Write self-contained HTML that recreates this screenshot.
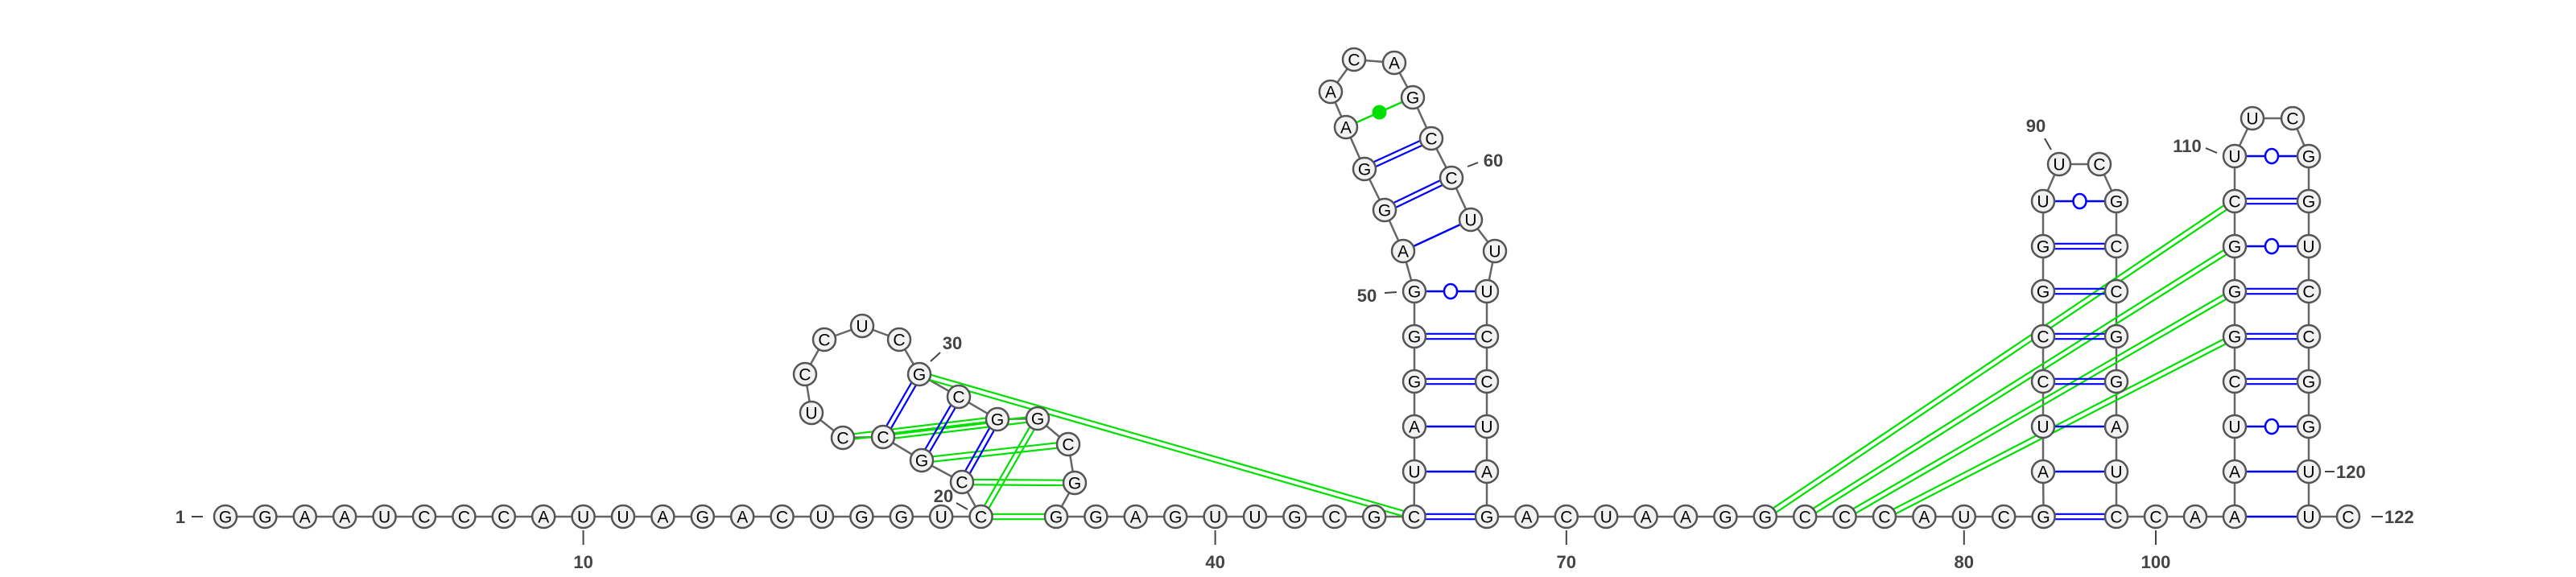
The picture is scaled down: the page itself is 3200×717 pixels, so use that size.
<!DOCTYPE html>
<html><head><meta charset="utf-8"><style>
html,body{margin:0;padding:0;background:#fff;}
svg{display:block;}
text{font-family:"Liberation Sans",sans-serif;}
</style></head><body>
<svg id="rna" width="3200" height="717" viewBox="0 0 3200 717" xmlns="http://www.w3.org/2000/svg">
<g id="bb"></g>
<g id="pairs"></g>
<g id="nts"></g>
<g id="labels"></g>
</svg>
<script>
const sequence = "GGAAUCCCAUUAGACUGGUC" + "CGCCUCCUCGCGGCG" + "GGAGUUGCGC" + "UAGGG" + "AGGAACAGCCUUU" + "CCUAG" + "ACUAAGGCCCAUCG" + "AUCCGGU" + "UC" + "GCCGGAUC" + "CAA" + "AUCGGGCU" + "UC" + "GGUCCGGUU" + "C";
const bluePairs = [[30,23,'d'],[31,22,'d'],[32,21,'d'],[45,68,'d'],[46,67,'s'],[47,66,'s'],[48,65,'d'],[49,64,'d'],[50,63,'w'],[51,61,'s'],[52,60,'d'],[53,59,'d'],
[82,99,'d'],[83,98,'s'],[84,97,'s'],[85,96,'d'],[86,95,'d'],[87,94,'d'],[88,93,'d'],[89,92,'w'],
[102,121,'s'],[103,120,'s'],[104,119,'w'],[105,118,'d'],[106,117,'d'],[107,116,'d'],[108,115,'w'],[109,114,'d'],[110,113,'w']];
const greenPairs = [[24,32],[23,33],[22,34],[21,35],[20,33],[20,36],[30,45],[75,109],[76,108],[77,107],[78,106]];
const greenDots = [[54,58]];
const tickNums = [10,40,70,80,100];

const NS='http://www.w3.org/2000/svg';
function mk(tag, attrs, parent){const e=document.createElementNS(NS,tag);for(const k in attrs)e.setAttribute(k,attrs[k]);parent.appendChild(e);return e;}
const P={};const S=49.4,B=642,R=56;
for(let i=1;i<=20;i++)P[i]=[280+(i-1)*S,B];
const loop={21:[1195,599],22:[1145,572],23:[1097,543],24:[1047,544],25:[1008,513],26:[1000,465],27:[1024,422],28:[1071,405],29:[1117,422],30:[1142,465],31:[1191,493],32:[1239,521],33:[1289,520],34:[1327,552],35:[1335,600]};
Object.assign(P,loop);
for(let i=36;i<=45;i++)P[i]=[1312+(i-36)*S,B];
for(let i=46;i<=50;i++)P[i]=[1757,B-R*(i-45)];
Object.assign(P,{51:[1743,312],52:[1720,261],53:[1695,210],54:[1672,158],55:[1653,114],56:[1682,74],57:[1732,78],58:[1755,121],59:[1778,172],60:[1803,221],61:[1827,273],62:[1857,312]});
for(let i=63;i<=68;i++)P[i]=[1847,B-R*(68-i)];
for(let i=69;i<=82;i++)P[i]=[1847+(i-68)*S,B];
for(let i=83;i<=89;i++)P[i]=[2538,B-R*(i-82)];
P[90]=[2558,204];P[91]=[2608,204];
for(let i=92;i<=99;i++)P[i]=[2629,250+R*(i-92)];
P[100]=[2678,B];P[101]=[2727,B];P[102]=[2776,B];
for(let i=103;i<=110;i++)P[i]=[2776,B-R*(i-102)];
P[111]=[2798,147];P[112]=[2848,147];
for(let i=113;i<=121;i++)P[i]=[2868,194+R*(i-113)];
P[122]=[2917,B];

const bb=document.getElementById('bb'),pg=document.getElementById('pairs'),ng=document.getElementById('nts'),lg=document.getElementById('labels');
for(let i=1;i<122;i++){
  const l=mk('line',{x1:P[i][0],y1:P[i][1],x2:P[i+1][0],y2:P[i+1][1],stroke:'#666','stroke-width':2.5},bb);
  
  
}
function dbl(a,b,color,name){
  const [x1,y1]=P[a],[x2,y2]=P[b];const dx=x2-x1,dy=y2-y1,L=Math.hypot(dx,dy);const ox=-dy/L*3.2,oy=dx/L*3.2;
  const g=mk('g',{},pg);
  
  
  mk('line',{x1:x1+ox,y1:y1+oy,x2:x2+ox,y2:y2+oy,stroke:color,'stroke-width':2.2},g);
  mk('line',{x1:x1-ox,y1:y1-oy,x2:x2-ox,y2:y2-oy,stroke:color,'stroke-width':2.2},g);
}
greenPairs.forEach(p=>dbl(p[0],p[1],'#00e000','pseudoknot-pair'));
bluePairs.forEach(p=>{
  const [a,b,t]=p;
  if(t==='d'){dbl(a,b,'#0000ff','base-pair');return;}
  const g=mk('g',{},pg);
  
  
  mk('line',{x1:P[a][0],y1:P[a][1],x2:P[b][0],y2:P[b][1],stroke:'#0000ff','stroke-width':2.5},g);
  if(t==='w')mk('ellipse',{cx:(P[a][0]+P[b][0])/2,cy:(P[a][1]+P[b][1])/2,rx:8,ry:9,fill:'#fff',stroke:'#0000ff','stroke-width':2.5},g);
});
greenDots.forEach(p=>{
  const [a,b]=p;const g=mk('g',{},pg);
  
  
  mk('line',{x1:P[a][0],y1:P[a][1],x2:P[b][0],y2:P[b][1],stroke:'#00e000','stroke-width':2.5},g);
  mk('circle',{cx:(P[a][0]+P[b][0])/2,cy:(P[a][1]+P[b][1])/2,r:9,fill:'#00e000'},g);
});
for(let i=1;i<=122;i++){
  const g=mk('g',{},ng);
  
  
  mk('circle',{cx:P[i][0],cy:P[i][1],r:14,fill:'#f2f2f2',stroke:'#555','stroke-width':2.5},g);
  const t=mk('text',{x:P[i][0],y:P[i][1]+7.5,'text-anchor':'middle','font-size':21,fill:'#000'},g);
  t.textContent=sequence[i-1];
}
function lbl(txt,x,y,anchor){const t=mk('text',{x:x,y:y,'text-anchor':anchor||'middle','font-size':22,'font-weight':'bold',fill:'#444'},lg);t.textContent=txt;
  
  }
function tk(x1,y1,x2,y2){mk('line',{x1,y1,x2,y2,stroke:'#444','stroke-width':2},lg);}
tickNums.forEach(n=>{const x=P[n][0];tk(x,659,x,677);lbl(String(n),x,706);});
lbl('1',224,650);tk(238,642,252,642);
tk(2946,642,2960,642);lbl('122',2962,650,'start');
lbl('20',1172,624);tk(1188,625,1202,633);
lbl('30',1183,434);tk(1156,449,1168,438);
lbl('50',1698,375);tk(1720,364,1735,363);
tk(1823,207,1836,202);lbl('60',1855,207);
lbl('90',2529,164);tk(2540,172,2548,186);
lbl('110',2717,189);tk(2740,184,2754,190);
tk(2888,586,2900,586);lbl('120',2902,594,'start');
</script>
</body></html>
